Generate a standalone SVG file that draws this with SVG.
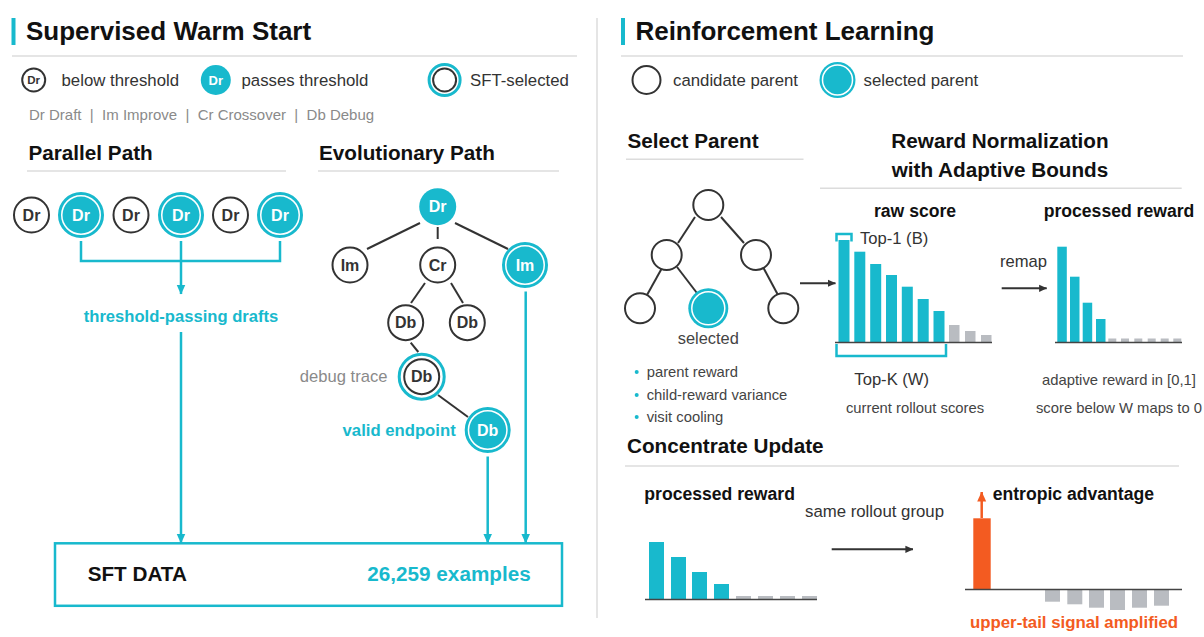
<svg xmlns="http://www.w3.org/2000/svg" width="1204" height="637" viewBox="0 0 1204 637">
<defs>
<style>
text{font-family:"Liberation Sans",Arial,Helvetica,sans-serif;}
.title{font-size:26px;font-weight:bold;fill:#111;}
.h2{font-size:20.7px;font-weight:bold;fill:#111;}
.h3{font-size:17.6px;font-weight:bold;fill:#111;}
.leg{font-size:16.8px;fill:#333;}
.small{font-size:14.8px;fill:#444;}
.gray{font-size:15px;fill:#8a8a8a;}
.lbl{font-size:16.6px;fill:#333;}
.node{fill:#fff;stroke:#333;stroke-width:2;}
.nt{font-size:16px;font-weight:bold;fill:#333;text-anchor:middle;}
.nw{font-size:16px;font-weight:bold;fill:#fff;text-anchor:middle;}
.fill{fill:#18b9cd;}
.ring{fill:none;stroke:#18b9cd;stroke-width:3;}
.wring{fill:none;stroke:#fff;stroke-width:1.5;}
.edge{stroke:#333;stroke-width:2;fill:none;}
.tconn{stroke:#18b9cd;stroke-width:2.5;fill:none;}
.dconn{stroke:#333;stroke-width:2;fill:none;}
.div{stroke:#dcdcdc;stroke-width:1.5;}
.teal{fill:#18b9cd;}
.grayb{fill:#b9bcc1;}
.axis{stroke:#444;stroke-width:1.5;}
.orange{fill:#f35b21;}
.tbold{font-weight:bold;fill:#18b9cd;}
.mid{text-anchor:middle;}
</style>
<marker id="aT" viewBox="0 0 10 10" refX="9.5" refY="5" markerWidth="10" markerHeight="10" markerUnits="userSpaceOnUse" orient="auto"><path d="M0,0.5 L10,5 L0,9.5 z" fill="#18b9cd"/></marker>
<marker id="aD" viewBox="0 0 10 10" refX="9.5" refY="5" markerWidth="8" markerHeight="8" markerUnits="userSpaceOnUse" orient="auto"><path d="M0,0.5 L10,5 L0,9.5 z" fill="#333"/></marker>
<marker id="aO" viewBox="0 0 10 10" refX="9.5" refY="5" markerWidth="10" markerHeight="10" markerUnits="userSpaceOnUse" orient="auto"><path d="M0,0.5 L10,5 L0,9.5 z" fill="#f35b21"/></marker>
</defs>
<rect width="1204" height="637" fill="#fff"/>

<!-- LEFT PANEL -->
<g id="left-header">
<rect x="11.5" y="18" width="4" height="27" class="teal"/>
<text x="26" y="40" class="title">Supervised Warm Start</text>
<line x1="12" y1="56" x2="577" y2="56" class="div"/>
</g>
<g id="left-legend">
<circle cx="33.7" cy="80" r="11.5" class="node"/>
<text x="33.7" y="84.2" class="nt" style="font-size:11.5px">Dr</text>
<text x="61.5" y="86" class="leg">below threshold</text>
<circle cx="215.8" cy="80" r="15" class="fill"/>
<text x="215.8" y="84.6" class="nw" style="font-size:13px">Dr</text>
<text x="241.5" y="86" class="leg">passes threshold</text>
<circle cx="444.6" cy="80" r="15.5" class="ring"/>
<circle cx="444.6" cy="80" r="11.5" class="node"/>
<text x="470" y="86" class="leg">SFT-selected</text>
<text x="29" y="120" class="gray" xml:space="preserve">Dr Draft  |  Im Improve  |  Cr Crossover  |  Db Debug</text>
</g>
<g id="parallel-header">
<text x="28.5" y="160" class="h2">Parallel Path</text>
<line x1="27" y1="171" x2="286" y2="171" class="div"/>
</g>
<g id="evo-header">
<text x="319" y="160" class="h2">Evolutionary Path</text>
<line x1="318" y1="171" x2="559" y2="171" class="div"/>
</g>

<g id="p1"><circle cx="31.5" cy="215" r="17.5" class="node"/><text x="31.5" y="220.7" class="nt">Dr</text></g>
<g id="p2"><circle cx="81" cy="215" r="21.5" class="ring"/><circle cx="81" cy="215" r="18.5" class="fill"/><text x="81" y="220.7" class="nw">Dr</text></g>
<g id="p3"><circle cx="131" cy="215" r="17.5" class="node"/><text x="131" y="220.7" class="nt">Dr</text></g>
<g id="p4"><circle cx="181" cy="215" r="21.5" class="ring"/><circle cx="181" cy="215" r="18.5" class="fill"/><text x="181" y="220.7" class="nw">Dr</text></g>
<g id="p5"><circle cx="230.5" cy="215" r="17.5" class="node"/><text x="230.5" y="220.7" class="nt">Dr</text></g>
<g id="p6"><circle cx="280" cy="215" r="21.5" class="ring"/><circle cx="280" cy="215" r="18.5" class="fill"/><text x="280" y="220.7" class="nw">Dr</text></g>

<g id="parallel-label"><text x="181" y="321.5" class="tbold mid" style="font-size:16.6px">threshold-passing drafts</text></g>

<g id="e-root"><circle cx="437.7" cy="206.7" r="18.5" class="fill"/><text x="437.7" y="212.4" class="nw">Dr</text></g>
<g id="e-im1"><circle cx="350" cy="265" r="17.5" class="node"/><text x="350" y="270.7" class="nt">Im</text></g>
<g id="e-cr"><circle cx="437.7" cy="265" r="17.5" class="node"/><text x="437.7" y="270.7" class="nt">Cr</text></g>
<g id="e-im2"><circle cx="525" cy="265" r="21.5" class="ring"/><circle cx="525" cy="265" r="18.5" class="fill"/><text x="525" y="270.7" class="nw">Im</text></g>
<g id="e-db1"><circle cx="405.7" cy="322.7" r="17.5" class="node"/><text x="405.7" y="328.4" class="nt">Db</text></g>
<g id="e-db2"><circle cx="467.3" cy="322.7" r="17.5" class="node"/><text x="467.3" y="328.4" class="nt">Db</text></g>
<g id="e-db3"><circle cx="421.7" cy="376.7" r="22.5" class="ring"/><circle cx="421.7" cy="376.7" r="17.5" class="node"/><text x="421.7" y="382.4" class="nt">Db</text>
<text x="387.5" y="382" class="lbl" style="fill:#8a8a8a;text-anchor:end">debug trace</text></g>
<g id="e-db4"><circle cx="487.7" cy="430" r="21.5" class="ring"/><circle cx="487.7" cy="430" r="18.5" class="fill"/><text x="487.7" y="435.7" class="nw">Db</text>
<text x="455.7" y="435.5" class="tbold" style="font-size:16.7px;text-anchor:end">valid endpoint</text></g>

<g id="sft-data">
<rect x="55" y="543.3" width="507" height="62.5" fill="#fff" stroke="#18b9cd" stroke-width="2.5"/>
<text x="87.7" y="581" style="font-size:20.7px;font-weight:bold;fill:#111">SFT DATA</text>
<text x="530.7" y="580.5" class="tbold" style="font-size:20.7px;text-anchor:end">26,259 examples</text>
</g>

<g id="left-connectors">
<path d="M81,241 V261 H280 V241" class="tconn"/>
<path d="M181,241 V294" class="tconn" marker-end="url(#aT)"/>
<path d="M181,332 V543" class="tconn" marker-end="url(#aT)"/>
<path d="M487.7,456.5 V543" class="tconn" marker-end="url(#aT)"/>
<path d="M525.7,291.5 V543" class="tconn" marker-end="url(#aT)"/>
<line x1="420" y1="223" x2="367" y2="249" class="edge"/>
<line x1="437.7" y1="227" x2="437.7" y2="239" class="edge"/>
<line x1="455" y1="223" x2="508" y2="249" class="edge"/>
<line x1="425" y1="283" x2="411" y2="303" class="edge"/>
<line x1="451" y1="283" x2="463" y2="303" class="edge"/>
<line x1="410.7" y1="342.7" x2="418.3" y2="352" class="edge"/>
<line x1="438" y1="395" x2="468" y2="417" class="edge"/>
</g>

<line x1="597" y1="18" x2="597" y2="618" class="div" stroke-width="2"/>

<!-- RIGHT PANEL -->
<g id="right-header">
<rect x="621" y="18" width="4" height="27" class="teal"/>
<text x="635.4" y="40" class="title">Reinforcement Learning</text>
<line x1="621" y1="56" x2="1183" y2="56" class="div"/>
</g>
<g id="right-legend">
<circle cx="646.5" cy="80" r="14" class="node"/>
<text x="673" y="86" class="leg">candidate parent</text>
<circle cx="837.5" cy="80" r="18" class="fill"/>
<circle cx="837.5" cy="80" r="15" class="wring"/>
<text x="863.5" y="86" class="leg">selected parent</text>
</g>

<g id="select-header">
<text x="627.5" y="148.3" class="h2">Select Parent</text>
<line x1="626" y1="159.3" x2="803.5" y2="159.3" class="div"/>
</g>
<g id="norm-header">
<text x="1000" y="148.3" class="h2 mid">Reward Normalization</text>
<text x="1000" y="177" class="h2 mid">with Adaptive Bounds</text>
<line x1="820" y1="188.3" x2="1181.7" y2="188.3" class="div"/>
</g>

<g id="sp-edges">
<line x1="695" y1="217" x2="678" y2="243" class="edge"/>
<line x1="721" y1="217" x2="744" y2="243" class="edge"/>
<line x1="662" y1="268" x2="647" y2="295" class="edge"/>
<line x1="677" y1="267" x2="700" y2="297" class="edge"/>
<line x1="763" y1="267" x2="778" y2="295" class="edge"/>
</g>
<g id="sp-root"><circle cx="708.3" cy="205" r="15" class="node"/></g>
<g id="sp-l"><circle cx="666.7" cy="255" r="15" class="node"/></g>
<g id="sp-r"><circle cx="756" cy="255" r="15" class="node"/></g>
<g id="sp-ll"><circle cx="640" cy="308.3" r="15" class="node"/></g>
<g id="sp-sel"><circle cx="708.3" cy="308.3" r="20" class="fill"/><circle cx="708.3" cy="308.3" r="16.5" class="wring"/>
<text x="708.3" y="344" class="mid" style="font-size:16.4px;fill:#444">selected</text></g>
<g id="sp-rl"><circle cx="783.3" cy="308.3" r="15" class="node"/></g>
<g id="sp-bullets">
<circle cx="636.7" cy="372" r="2" class="teal"/><text x="646.7" y="377" class="small">parent reward</text>
<circle cx="636.7" cy="395" r="2" class="teal"/><text x="646.7" y="400" class="small">child-reward variance</text>
<circle cx="636.7" cy="417" r="2" class="teal"/><text x="646.7" y="422" class="small">visit cooling</text>
</g>

<g id="raw-chart">
<text x="915" y="216.7" class="h3 mid">raw score</text>
<path d="M836.5,241.5 V234 H851.5 V241.5" class="tconn" stroke-width="2"/>
<text x="860" y="244" class="lbl">Top-1 (B)</text>
<rect x="838.5" y="240" width="11" height="102" class="teal"/>
<rect x="854.3" y="251.7" width="11" height="90.3" class="teal"/>
<rect x="870.2" y="264" width="11" height="78" class="teal"/>
<rect x="886" y="275" width="11" height="67" class="teal"/>
<rect x="901.8" y="286.7" width="11" height="55.3" class="teal"/>
<rect x="917.7" y="299" width="11" height="43" class="teal"/>
<rect x="933.5" y="311" width="11" height="31" class="teal"/>
<rect x="949" y="325" width="10.5" height="17" class="grayb"/>
<rect x="965" y="331" width="10.5" height="11" class="grayb"/>
<rect x="981" y="335" width="10.5" height="7" class="grayb"/>
<line x1="835" y1="342.5" x2="992" y2="342.5" class="axis"/>
<path d="M836.5,344 V356 H946 V344" class="tconn" stroke-width="2"/>
<text x="891.7" y="385" class="lbl mid">Top-K (W)</text>
<text x="915" y="413.3" class="small mid">current rollout scores</text>
</g>

<g id="processed-chart">
<text x="1119" y="216.7" class="h3 mid">processed reward</text>
<text x="1023.5" y="266.5" class="lbl mid">remap</text>
<rect x="1057.3" y="246.7" width="9.5" height="95.3" class="teal"/>
<rect x="1070" y="276.7" width="9.5" height="65.3" class="teal"/>
<rect x="1082.7" y="302.7" width="9.5" height="39.3" class="teal"/>
<rect x="1096" y="319" width="9.5" height="23" class="teal"/>
<rect x="1108.3" y="338.5" width="8" height="3.5" class="grayb"/>
<rect x="1121" y="338.5" width="8" height="3.5" class="grayb"/>
<rect x="1134.3" y="338.5" width="8" height="3.5" class="grayb"/>
<rect x="1147.7" y="338.5" width="8" height="3.5" class="grayb"/>
<rect x="1160.7" y="338.5" width="8" height="3.5" class="grayb"/>
<rect x="1173.3" y="338.5" width="8" height="3.5" class="grayb"/>
<line x1="1055" y1="342.5" x2="1182" y2="342.5" class="axis"/>
<text x="1119" y="384.5" class="small mid">adaptive reward in [0,1]</text>
<text x="1119" y="413.3" class="small mid">score below W maps to 0</text>
</g>

<g id="concentrate-header">
<text x="627" y="453" class="h2">Concentrate Update</text>
<line x1="625" y1="466" x2="1179" y2="466" class="div"/>
</g>

<g id="cu-processed">
<text x="644.3" y="500" class="h3">processed reward</text>
<rect x="649" y="542" width="15" height="57" class="teal"/>
<rect x="671" y="557" width="15" height="42" class="teal"/>
<rect x="692" y="572" width="15" height="27" class="teal"/>
<rect x="714" y="584" width="15" height="15" class="teal"/>
<rect x="736" y="596" width="15" height="3" class="grayb"/>
<rect x="758" y="596" width="15" height="3" class="grayb"/>
<rect x="780" y="596" width="15" height="3" class="grayb"/>
<rect x="802" y="596" width="15" height="3" class="grayb"/>
<line x1="645" y1="599.5" x2="817" y2="599.5" class="axis"/>
</g>
<g id="cu-label"><text x="805" y="517" class="leg">same rollout group</text></g>

<g id="cu-advantage">
<text x="992.7" y="500" class="h3">entropic advantage</text>
<rect x="973.3" y="518.3" width="17.4" height="71" class="orange"/>
<rect x="1045" y="590" width="15" height="11.7" class="grayb"/>
<rect x="1067.3" y="590" width="15" height="14.3" class="grayb"/>
<rect x="1089" y="590" width="15" height="17.7" class="grayb"/>
<rect x="1110" y="590" width="15" height="20" class="grayb"/>
<rect x="1132" y="590" width="15" height="17.7" class="grayb"/>
<rect x="1154" y="590" width="15" height="15.7" class="grayb"/>
<line x1="965" y1="589.5" x2="1182" y2="589.5" class="axis"/>
<text x="1074" y="628.3" class="mid" style="font-size:16.8px;font-weight:bold;fill:#f35b21">upper-tail signal amplified</text>
</g>

<g id="right-connectors">
<path d="M800,283.3 H835.5" class="dconn" marker-end="url(#aD)"/>
<path d="M1001.7,288.3 H1046.7" class="dconn" marker-end="url(#aD)"/>
<path d="M831.7,549.3 H913" class="dconn" marker-end="url(#aD)"/>
<path d="M981.7,518 V492" stroke="#f35b21" stroke-width="2.5" fill="none" marker-end="url(#aO)"/>
</g>
</svg>
